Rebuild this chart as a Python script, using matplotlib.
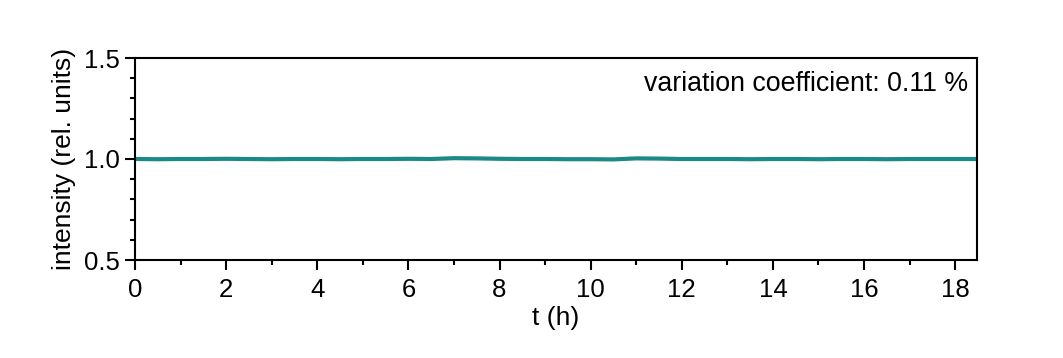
import numpy as np
import matplotlib.pyplot as plt
from matplotlib.ticker import MultipleLocator

plt.rcParams['font.family'] = ['Liberation Sans', 'DejaVu Sans']

# time (h) and relative intensity
t = [0.0, 0.5, 1.0, 1.5, 2.0, 2.5, 3.0, 3.5, 4.0, 4.5, 5.0, 5.5, 6.0, 6.5,
     7.0, 7.5, 8.0, 8.5, 9.0, 9.5, 10.0, 10.5, 11.0, 11.5, 12.0, 12.5, 13.0,
     13.5, 14.0, 14.5, 15.0, 15.5, 16.0, 16.5, 17.0, 17.5, 18.0, 18.5]
intensity = [1.000, 0.999, 1.000, 1.000, 1.001, 1.000, 0.999, 1.000, 1.000,
             0.999, 1.000, 1.000, 1.001, 1.000, 1.004, 1.003, 1.001, 1.000,
             1.000, 0.999, 0.999, 0.998, 1.003, 1.002, 1.000, 1.000, 1.000,
             0.999, 1.000, 1.000, 0.999, 1.000, 1.000, 0.999, 1.000, 1.000,
             1.000, 1.000]
cv_label = 'variation coefficient: 0.11 %'

fig = plt.figure(figsize=(10.63, 3.58), dpi=100)
ax = fig.add_axes([135 / 1063, 1 - 260 / 358, (977 - 135) / 1063, (260 - 58) / 358])

ax.plot(t, intensity, color='#1b8a87', lw=3)

ax.set_xlim(0, 18.48)
ax.set_ylim(0.5, 1.5)
ax.xaxis.set_major_locator(MultipleLocator(2))
ax.xaxis.set_minor_locator(MultipleLocator(1))
ax.yaxis.set_major_locator(MultipleLocator(0.5))
ax.yaxis.set_minor_locator(MultipleLocator(0.1))
ax.yaxis.set_major_formatter(plt.FormatStrFormatter('%.1f'))
ax.tick_params(which='major', direction='out', length=7, width=1.5, labelsize=18.5)
ax.tick_params(axis='y', which='major', pad=4)
ax.tick_params(axis='x', which='major', pad=6)
ax.tick_params(which='minor', direction='out', length=3.5, width=1.5)
for s in ax.spines.values():
    s.set_linewidth(1.5)

ax.set_xlabel('t (h)', fontsize=19, labelpad=3)
ax.set_ylabel('intensity (rel. units)', fontsize=19, labelpad=6)
ax.text(0.99, 0.871, cv_label, transform=ax.transAxes, ha='right', va='center', fontsize=19.3)

fig.savefig('out.png', dpi=100)
